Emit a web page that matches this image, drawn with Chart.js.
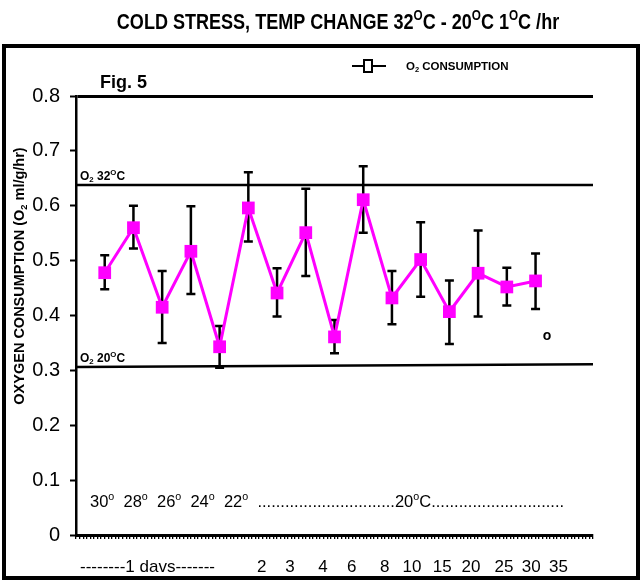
<!DOCTYPE html>
<html>
<head>
<meta charset="utf-8">
<script src="https://cdn.jsdelivr.net/npm/chart.js@4/dist/chart.umd.min.js"></script>
<style>
  html, body { margin: 0; padding: 0; background: #fff; }
</style>
</head>
<body>
<canvas id="myChart" width="642" height="588"></canvas>
<script>
// samples along the time axis (1 per sampling)
const samples = [1, 2, 3, 4, 5, 6, 7, 8, 9, 10, 11, 12, 13, 14, 15, 16];
const o2Means = [0.478, 0.560, 0.415, 0.517, 0.343, 0.596, 0.441, 0.551, 0.361, 0.611, 0.432, 0.502, 0.407, 0.477, 0.452, 0.463];
const o2Upper = [0.510, 0.600, 0.481, 0.599, 0.381, 0.661, 0.486, 0.631, 0.392, 0.672, 0.481, 0.570, 0.464, 0.555, 0.487, 0.513];
const o2Lower = [0.448, 0.522, 0.350, 0.439, 0.305, 0.535, 0.398, 0.472, 0.331, 0.551, 0.384, 0.434, 0.348, 0.398, 0.418, 0.412];
const ref32 = [0.638, 0.638];
const ref20 = [0.306, 0.311];
const refX = [0, 18];
const tempLabels = ["30", "28", "26", "24", "22"];
const dayLabels = ["2", "3", "4", "6", "8", "10", "15", "20", "25", "30", "35"];

const SANS = '"Liberation Sans", Arial, sans-serif';
const NARROW = 0.82; // horizontal squeeze to mimic Arial Narrow
const dayLabelAt = [6.47, 7.45, 8.6, 9.6, 10.75, 11.7, 12.75, 13.75, 14.9, 15.85, 16.8];

// text made of pieces, some raised (s) or lowered (b); hs = horizontal scale
function richText(c, parts, x, y, size, bold, align, hs) {
  hs = hs || 1;
  const f = p => (bold ? 'bold ' : '') + (p.s || p.b ? size * 0.65 : size) + 'px ' + SANS;
  let w = 0;
  parts.forEach(p => { c.font = f(p); w += c.measureText(p.t).width; });
  c.save();
  c.translate(x, y);
  c.scale(hs, 1);
  let cx = align === 'center' ? -w / 2 : (align === 'right' ? -w : 0);
  c.textAlign = 'left';
  c.textBaseline = 'alphabetic';
  parts.forEach(p => {
    c.font = f(p);
    const dy = p.s ? -size * 0.42 : (p.b ? size * 0.2 : 0);
    c.fillText(p.t, cx, dy);
    cx += c.measureText(p.t).width;
  });
  c.restore();
}

const decor = {
  id: 'decor',
  beforeDraw(chart) {
    const c = chart.ctx;
    c.save();
    c.fillStyle = '#fff';
    c.fillRect(0, 0, chart.width, chart.height);
    c.strokeStyle = '#000';
    c.lineWidth = 4;
    c.strokeRect(4, 46, 634, 532);
    c.restore();
  },
  beforeDatasetsDraw(chart) {
    const c = chart.ctx;
    const xs = chart.scales.x, ys = chart.scales.y;
    c.save();
    c.strokeStyle = '#000';
    c.lineWidth = 2.5;
    samples.forEach((s, i) => {
      const px = xs.getPixelForValue(s);
      const yt = ys.getPixelForValue(o2Upper[i]);
      const yb = ys.getPixelForValue(o2Lower[i]);
      c.beginPath();
      c.moveTo(px, yt); c.lineTo(px, yb);
      c.moveTo(px - 4.5, yt); c.lineTo(px + 4.5, yt);
      c.moveTo(px - 4.5, yb); c.lineTo(px + 4.5, yb);
      c.stroke();
    });
    c.restore();
  },
  afterDraw(chart) {
    const c = chart.ctx;
    const xs = chart.scales.x, ys = chart.scales.y;
    c.save();
    c.fillStyle = '#000';

    // title
    richText(c, [
      {t: 'COLD STRESS, TEMP CHANGE 32'}, {t: 'O', s: 1}, {t: 'C - 20'}, {t: 'O', s: 1},
      {t: 'C 1'}, {t: 'O', s: 1}, {t: 'C /hr'}
    ], 338, 29, 22, true, 'center', NARROW);

    // legend
    c.strokeStyle = '#000';
    c.lineWidth = 2;
    c.beginPath();
    c.moveTo(352, 66); c.lineTo(386, 66);
    c.stroke();
    c.fillStyle = '#fff';
    c.fillRect(364, 60, 8, 12);
    c.strokeRect(364, 60, 8, 12);
    c.fillStyle = '#000';
    richText(c, [{t: 'O'}, {t: '2', b: 1}, {t: ' CONSUMPTION'}], 406, 70, 11.5, true, 'left', 1);

    // figure tag
    richText(c, [{t: 'Fig. 5'}], 100, 88, 18, true, 'left', 1);

    // y axis title
    c.save();
    c.translate(24, 276);
    c.rotate(-Math.PI / 2);
    richText(c, [{t: 'OXYGEN CONSUMPTION (O'}, {t: '2', b: 1}, {t: ' ml/g/hr)'}], 0, 0, 14.5, true, 'center', 1);
    c.restore();

    // reference line labels
    richText(c, [{t: 'O'}, {t: '2', b: 1}, {t: ' 32'}, {t: 'O', s: 1}, {t: 'C'}],
      80, ys.getPixelForValue(ref32[0]) - 5, 12, true, 'left', 1);
    richText(c, [{t: 'O'}, {t: '2', b: 1}, {t: ' 20'}, {t: 'O', s: 1}, {t: 'C'}],
      80, ys.getPixelForValue(ref20[0]) - 5, 12, true, 'left', 1);

    // stray "o" next to the last sample
    richText(c, [{t: 'o'}], xs.getPixelForValue(16.4), ys.getPixelForValue(0.355), 14, true, 'center', 1);

    // temperature row
    const row = [];
    tempLabels.forEach(t => { row.push({t: t}); row.push({t: 'o', s: 1}); row.push({t: '  '}); });
    row.push({t: '.'.repeat(30) + '20'}, {t: 'o', s: 1}, {t: 'C' + '.'.repeat(29)});
    richText(c, row, 90, 507, 16.5, false, 'left', 1);

    // day labels below the axis
    richText(c, [{t: '--------1 davs-------'}], 80, 572, 17, false, 'left', 1);
    dayLabels.forEach((d, i) =>
      richText(c, [{t: d}], xs.getPixelForValue(dayLabelAt[i]), 572, 17, false, 'center', 1));
    c.restore();
  }
};

const ctx = document.getElementById('myChart').getContext('2d');
new Chart(ctx, {
  type: 'line',
  data: {
    datasets: [
      {
        label: 'O2 CONSUMPTION',
        data: samples.map((s, i) => ({x: s, y: o2Means[i]})),
        borderColor: '#ff00ff',
        backgroundColor: '#ff00ff',
        borderWidth: 3,
        pointStyle: 'rect',
        pointRadius: 9,
        pointBorderWidth: 0,
        tension: 0
      },
      {
        label: '32C',
        data: refX.map((x, i) => ({x: x, y: ref32[i]})),
        borderColor: '#000',
        borderWidth: 2.5,
        pointRadius: 0
      },
      {
        label: '20C',
        data: refX.map((x, i) => ({x: x, y: ref20[i]})),
        borderColor: '#000',
        borderWidth: 2.5,
        pointRadius: 0
      }
    ]
  },
  options: {
    responsive: false,
    animation: false,
    layout: {padding: {top: 96, right: 49, bottom: 43, left: 0}},
    plugins: {legend: {display: false}, tooltip: {enabled: false}},
    scales: {
      x: {
        type: 'linear',
        min: 0,
        max: 18,
        afterFit(s) { s.height = 10; },
        border: {color: '#000', width: 3},
        grid: {drawOnChartArea: false, color: '#000', lineWidth: 1.3, tickLength: 4},
        ticks: {stepSize: 0.125, display: false}
      },
      y: {
        min: 0,
        max: 0.8,
        afterFit(s) { s.width = 76; },
        border: {color: '#000', width: 2.5},
        grid: {
          color: c => Math.abs(c.tick.value - 0.8) < 1e-6 ? '#000' : 'rgba(0,0,0,0)',
          lineWidth: 3,
          tickColor: '#000',
          tickWidth: 2,
          tickLength: 6
        },
        ticks: {
          stepSize: 0.1,
          color: '#000',
          padding: 10,
          font: {family: SANS, size: 20},
          callback: v => v === 0 ? '0' : v.toFixed(1)
        }
      }
    }
  },
  plugins: [decor]
});
</script>
</body>
</html>
